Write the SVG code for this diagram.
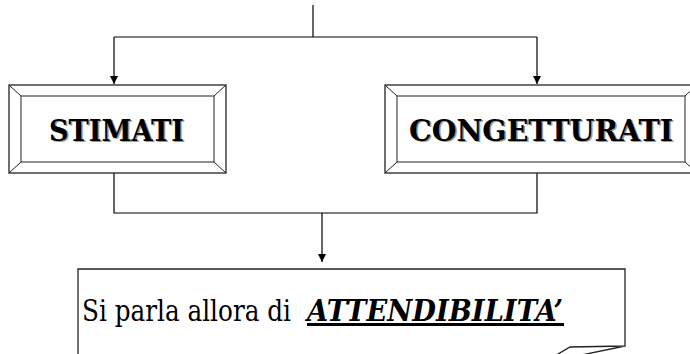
<svg xmlns="http://www.w3.org/2000/svg" width="690" height="354" viewBox="0 0 690 354">
<defs>
<style>
.conn{fill:none;stroke:#000;stroke-width:1.2}
.frame{fill:#fff;stroke:#222;stroke-width:1.3}
.bev{fill:none;stroke:#222;stroke-width:1}
text{font-family:"DejaVu Serif","Liberation Serif",serif}
.lbl{font-weight:bold;font-size:29px}
.sh{fill:#999}
.body{font-size:29px}
</style>
<marker id="ah" viewBox="0 0 8 8" refX="8" refY="4" markerWidth="8" markerHeight="8" markerUnits="userSpaceOnUse" orient="auto">
<path d="M0,0 L8,4 L0,8 z" fill="#000"/>
</marker>
</defs>
<rect width="690" height="354" fill="#fff"/>
<g id="connectors">
<path class="conn" d="M313,5 V37"/>
<path class="conn" d="M114,37 H537"/>
<path class="conn" d="M114,37 V84" marker-end="url(#ah)"/>
<path class="conn" d="M537,37 V84" marker-end="url(#ah)"/>
<path class="conn" d="M114,173 V213 H537 V173"/>
<path class="conn" d="M322,213 V262" marker-end="url(#ah)"/>
</g>
<g id="stimati">
<rect class="frame" x="9" y="85" width="217" height="88"/>
<rect class="bev" x="21" y="96" width="193" height="66"/>
<path class="bev" d="M9,85 L21,96 M226,85 L214,96 M9,173 L21,162 M226,173 L214,162"/>
<text class="lbl sh" x="50.5" y="142" textLength="135" lengthAdjust="spacingAndGlyphs">STIMATI</text>
<text class="lbl" x="49" y="140.5" textLength="135" lengthAdjust="spacingAndGlyphs">STIMATI</text>
</g>
<g id="congetturati">
<rect class="frame" x="385" y="85" width="312" height="88"/>
<rect class="bev" x="397" y="96" width="288" height="66"/>
<path class="bev" d="M385,85 L397,96 M697,85 L685,96 M385,173 L397,162 M697,173 L685,162"/>
<text class="lbl sh" x="410.5" y="142" textLength="264" lengthAdjust="spacingAndGlyphs">CONGETTURATI</text>
<text class="lbl" x="409" y="140.5" textLength="264" lengthAdjust="spacingAndGlyphs">CONGETTURATI</text>
</g>
<g id="attendibilita">
<path class="frame" d="M78,356 V269 H625 V346 L570,347 L553,357 M625,346 L572,357"/>
<text class="body" y="321"><tspan x="82" textLength="209" lengthAdjust="spacingAndGlyphs">Si parla allora di</tspan><tspan x="307" textLength="256" lengthAdjust="spacingAndGlyphs" font-weight="bold" font-style="italic">ATTENDIBILITA’</tspan></text>
<rect x="307" y="323" width="257" height="3" fill="#000"/>
</g>
</svg>
